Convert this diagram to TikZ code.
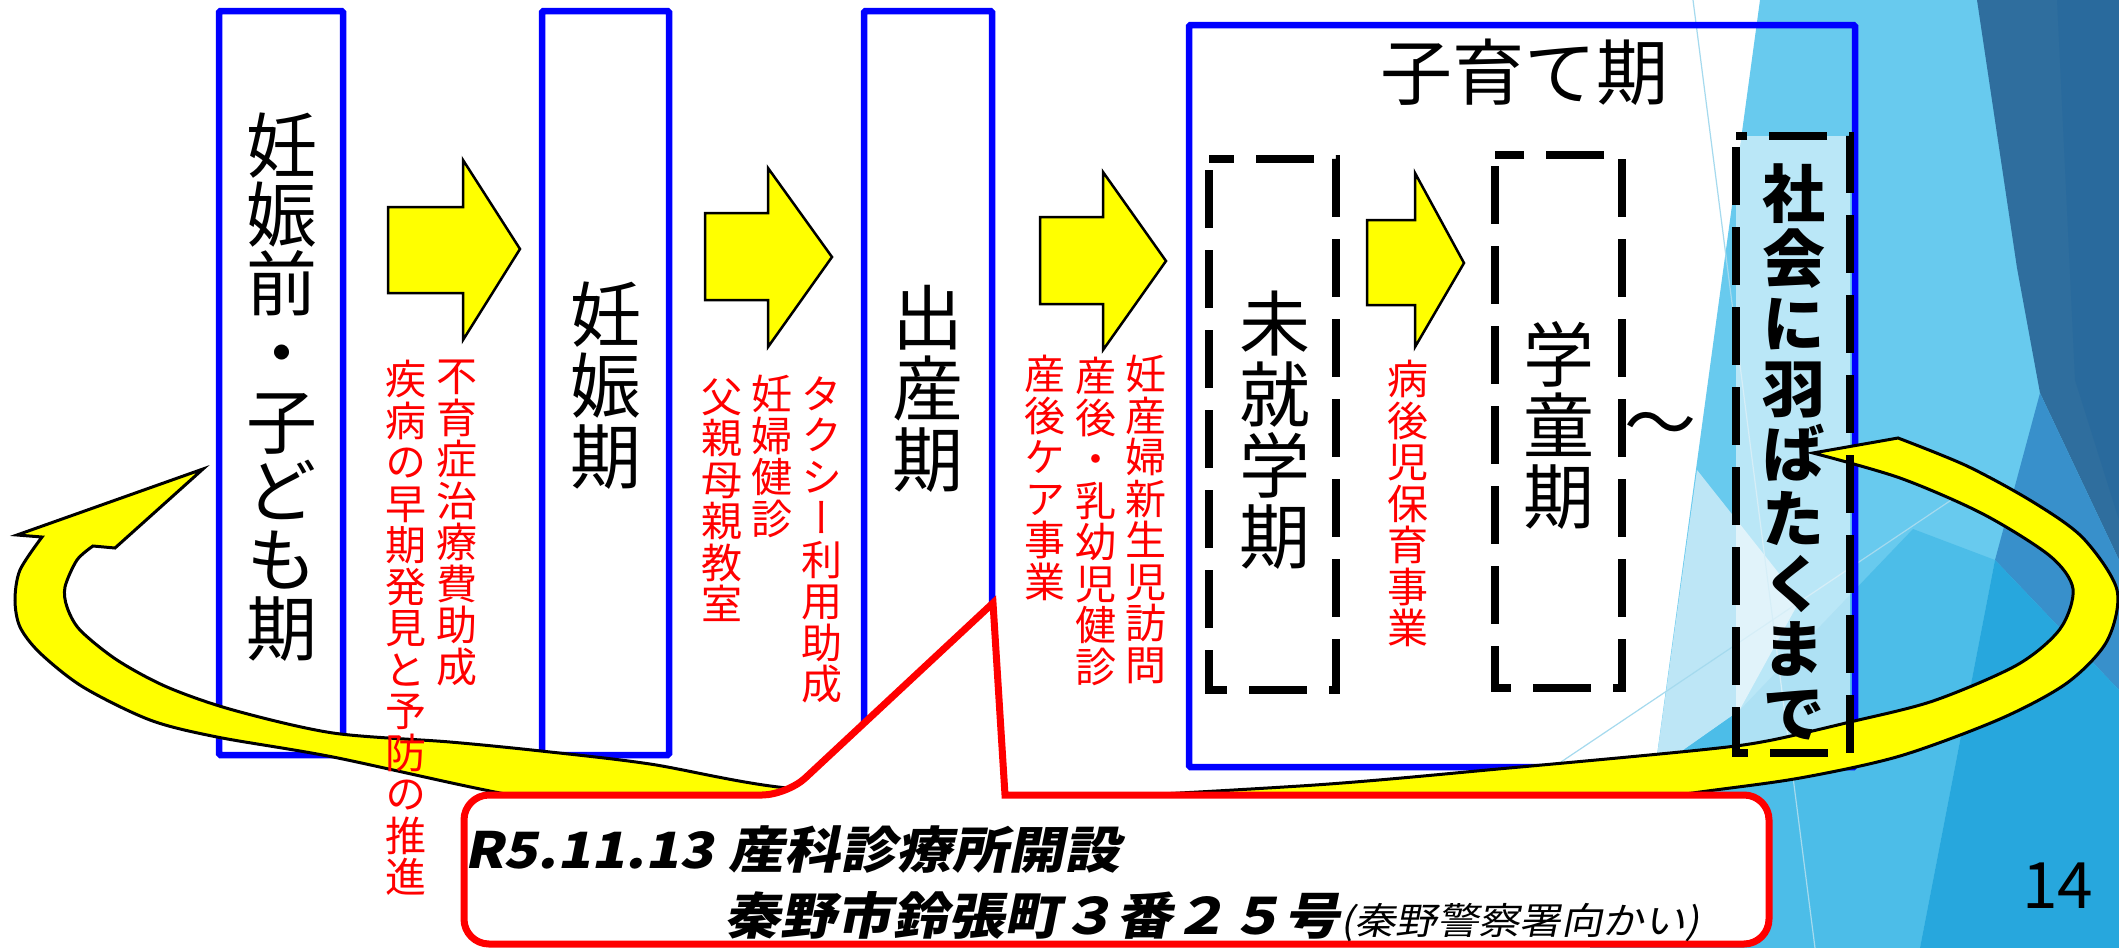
\documentclass[tikz,border=0pt]{standalone}
\usepackage{fontspec}
\newfontfamily\jp{Noto Sans CJK JP}
\newfontfamily\jpv[RawFeature=+vert]{Noto Sans CJK JP}
\newfontfamily\jpc[FakeSlant=0.2,FakeStretch=1.12]{Noto Sans CJK JP}
\definecolor{bgsky}{HTML}{68CAEE}
\definecolor{bglight}{HTML}{BDE6F6}
\definecolor{bgdark}{HTML}{2F6E9E}
\definecolor{bgdarker}{HTML}{296A9D}
\definecolor{bgsteel}{HTML}{3890CB}
\definecolor{bgmed}{HTML}{4CBDE8}
\definecolor{bgbright}{HTML}{27A7DD}
\definecolor{bgline}{HTML}{A5DAEE}
\definecolor{pblue}{HTML}{0000FF}
\definecolor{pred}{HTML}{FF0000}
\definecolor{pyellow}{HTML}{FFFF00}
\tikzset{
  stage/.style={draw=pblue, line width=6.5bp, rounded corners=1.5bp},
  dashbox/.style={draw=black, line width=7.5bp, dash pattern=on 58bp off 22bp, dash phase=69bp},
  veil/.style={fill=white, fill opacity=0.55, draw=none},
  blockarrow/.style={fill=pyellow, draw=black, line width=2.5bp, line join=miter},
  bigarrow/.style={fill=pyellow, draw=black, line width=3bp, line join=miter, miter limit=20},
  bigtext/.style={font=\jpv\fontsize{71bp}{71bp}\selectfont, align=center, inner sep=0pt},
  redtext/.style={font=\jpv\fontsize{41bp}{41.5bp}\selectfont, text=pred, align=center, inner sep=0pt, anchor=north},
  callout/.style={fill=white, draw=pred, line width=7bp, line join=miter},
  thinline/.style={draw=bgline, line width=1.2bp},
}
\begin{document}
\begin{tikzpicture}[x=1bp,y=-1bp]
\useasboundingbox (0,0) rectangle (2119,948);
\fill[white] (0,0) rectangle (2119,948);
% background facets
\fill[bgsky] (1760,0) -- (2119,0) -- (2119,948) -- (1590,948) -- (1655,770) -- cycle;
\fill[bglight] (1697,470) -- (1800,600) -- (1739,711) -- (1655,770) -- cycle;
\fill[bgdark] (1977,0) -- (2119,0) -- (2119,560) -- (2040,393) -- (2017,268) -- cycle;
\fill[bgdarker] (2057,0) -- (2119,0) -- (2119,520) -- (2075,380) -- cycle;
\fill[bgsteel] (2040,393) -- (2119,560) -- (2119,690) -- (1995,560) -- cycle;
\fill[bgmed] (1739,711) -- (1913,529) -- (1995,560) -- (1920,948) -- (1590,948) -- (1655,770) -- cycle;
\fill[bgbright] (1995,560) -- (2119,690) -- (2119,948) -- (1920,948) -- cycle;
\draw[thinline] (1693,0) -- (1815,948);
\draw[thinline] (1555,766) -- (1990,474);

% stage boxes
\draw[stage] (219,11) rectangle (343,755);
\draw[stage] (542,11) rectangle (669,755);
\draw[stage] (864,11) rectangle (992,755);
\draw[stage] (1189,25) rectangle (1855,767);
% translucent fill of the last dashed box (behind the arrow)
\fill[veil] (1736,136) rectangle (1850,753);

% block arrows
\draw[blockarrow] (388,207) -- (463,207) -- (463,160) -- (520,249) -- (463,340) -- (463,293) -- (388,293) -- cycle;
\draw[blockarrow] (705,213) -- (768,213) -- (768,168) -- (832,257) -- (768,347) -- (768,300) -- (705,300) -- cycle;
\draw[blockarrow] (1040,217) -- (1103,217) -- (1103,172) -- (1166,261) -- (1103,350) -- (1103,304) -- (1040,304) -- cycle;
\draw[blockarrow] (1367,220) -- (1415,220) -- (1415,173) -- (1464,263) -- (1415,347) -- (1415,305) -- (1367,305) -- cycle;

% big curved return arrow
\draw[bigarrow] (203,469) -- (17,535) -- (42,537)
  -- plot[smooth, tension=0.5] coordinates {(42,537) (20,570) (15,600) (20,627) (40,653) (83,687) (150,720) (217,737) (333,757) (500,793) (700,828) (1000,842) (1300,832) (1550,812) (1700,792) (1800,778) (1900,756) (2000,719) (2067,683) (2107,641) (2117,590) (2083,538) (2033,502) (1967,466) (1898,438)}
  -- (1813,453)
  -- plot[smooth, tension=0.5] coordinates {(1813,453) (1900,478) (1983,514) (2050,556) (2073,589) (2060,629) (2017,665) (1933,701) (1850,722) (1767,741) (1700,750) (1509,768) (1300,786) (1000,800) (787,788) (650,764) (541,751) (450,742) (333,733) (233,710) (167,687) (117,660) (80,630) (67,607) (65,587) (77,560) (93,546)}
  -- (115,548) -- cycle;

% dashed boxes
\draw[dashbox] (1209,159) rectangle (1336,690);
\draw[dashbox] (1495,155) rectangle (1622,688);
\draw[dashbox] (1736,136) rectangle (1850,753);

% stage texts
\node[bigtext, font=\jpv\fontsize{71bp}{69bp}\selectfont] (t1) at (282,387) {妊\\娠\\前\\・\\子\\ど\\も\\期};
\node[bigtext] (t2) at (606,386) {妊\\娠\\期};
\node[bigtext] (t3) at (928,389) {出\\産\\期};
\node[inner sep=0pt, font=\jp\fontsize{72bp}{72bp}\selectfont] (t4) at (1524,72) {子育て期};
\node[bigtext] (t5) at (1275,430) {未\\就\\学\\期};
\node[bigtext] (t6) at (1559,425) {学\\童\\期};
\node[inner sep=0pt, font=\jp\fontsize{72bp}{72bp}\selectfont] (tilde) at (1660,431) {～};
\node[bigtext, font=\jpv\bfseries\fontsize{63bp}{65bp}\selectfont] (t7) at (1794,452) {社\\会\\に\\羽\\ば\\た\\く\\ま\\で};

% red program texts
\node[redtext] (r1) at (457,360) {不\\育\\症\\治\\療\\費\\助\\成};
\node[redtext] (r2) at (406,360) {疾\\病\\の\\早\\期\\発\\見\\と\\予\\防\\の\\推\\進};
\node[redtext] (r3) at (822,376) {タ\\ク\\シ\\ー\\利\\用\\助\\成};
\node[redtext] (r4) at (772,375) {妊\\婦\\健\\診};
\node[redtext] (r5) at (722,378) {父\\親\\母\\親\\教\\室};
\node[redtext] (r6) at (1146,355) {妊\\産\\婦\\新\\生\\児\\訪\\問};
\node[redtext] (r7) at (1096,357) {産\\後\\・\\乳\\幼\\児\\健\\診};
\node[redtext] (r8) at (1045,355) {産\\後\\ケ\\ア\\事\\業};
\node[redtext] (r9) at (1408,360) {病\\後\\児\\保\\育\\事\\業};

% callout
\draw[callout] (1005,795) [rounded corners=25bp] -- (1769,795) -- (1769,944) -- (464,944) -- (464,795) -- (787,795) [sharp corners] -- (993,603) -- cycle;
\node[anchor=base west, inner sep=0pt, font=\jpc\bfseries\fontsize{50bp}{50bp}\selectfont] (c1) at (464,868) {R5.11.13\hspace{0.3em}産科診療所開設};
\node[anchor=base west, inner sep=0pt, font=\jpc\bfseries\fontsize{50bp}{50bp}\selectfont] (c2) at (724,934) {秦野市鈴張町３番２５号{\mdseries\fontsize{37bp}{37bp}\selectfont(秦野警察署向かい)}};

% page number
\node[anchor=base west, inner sep=0pt, font=\jp\fontsize{64bp}{64bp}\selectfont] (pg) at (2022,908) {14};
\end{tikzpicture}
\end{document}
